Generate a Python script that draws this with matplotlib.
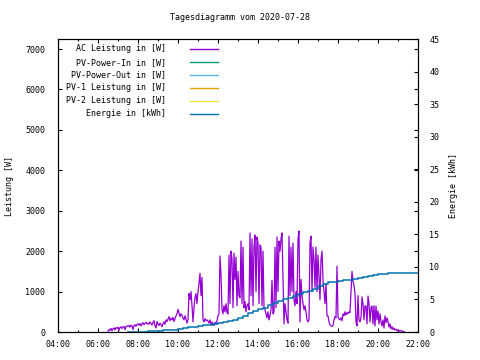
import numpy as np
import matplotlib
matplotlib.use("Agg")
import matplotlib.pyplot as plt
from matplotlib.ticker import MultipleLocator, FuncFormatter

# ── Data ─────────────────────────────────────────────────────
# AC power [W], one value every 3 minutes from 06:30 (one row per hour)
ac_rows = [
    [20, 60, 40, 90, 30, 80, 100, 50, 110, 90, 120, 40, 110, 130, 90, 120, 140, 60, 130, 150],
    [140, 160, 120, 170, 150, 60, 160, 180, 140, 190, 200, 170, 210, 150, 200, 230, 180, 210, 240, 200],
    [220, 190, 250, 210, 170, 240, 280, 150, 100, 260, 200, 160, 220, 180, 130, 210, 250, 190, 300, 260],
    [320, 380, 280, 340, 300, 360, 260, 330, 400, 450, 560, 480, 380, 450, 420, 350, 300, 400, 320, 220],
    [300, 950, 800, 1000, 650, 250, 600, 850, 950, 700, 1000, 1200, 1450, 900, 1350, 300, 250, 330, 280, 300],
    [270, 220, 300, 180, 250, 200, 160, 240, 190, 280, 400, 450, 1880, 1400, 550, 450, 650, 500, 700, 480],
    [450, 1900, 700, 2000, 1800, 600, 1950, 1300, 1850, 650, 1500, 900, 850, 2250, 700, 2100, 600, 750, 500, 650],
    [700, 550, 2450, 900, 2300, 650, 2100, 2400, 1000, 2350, 2200, 700, 2150, 2100, 650, 2000, 600, 550, 450, 350],
    [500, 300, 400, 550, 1280, 450, 500, 2100, 600, 2350, 1000, 2250, 2000, 2300, 2450, 1300, 200, 700, 500, 300],
    [220, 2370, 900, 2100, 1000, 2200, 800, 650, 1000, 700, 2300, 2500, 250, 1300, 900, 700, 550, 650, 500, 300],
    [250, 300, 2200, 2370, 1000, 2100, 1800, 1100, 2100, 1000, 1900, 1400, 800, 1800, 2000, 1300, 1000, 700, 1200, 400],
    [400, 250, 180, 150, 140, 160, 300, 380, 350, 1630, 380, 320, 300, 350, 280, 450, 400, 500, 420, 480],
    [450, 500, 480, 1000, 1500, 1250, 1150, 950, 250, 150, 900, 300, 250, 350, 870, 700, 300, 650, 640, 200],
    [890, 700, 250, 600, 640, 200, 650, 150, 640, 300, 520, 200, 450, 250, 150, 300, 100, 400, 230, 350],
    [260, 120, 200, 80, 130, 60, 100, 50, 70, 30, 60, 25, 40, 20, 30, 15, 10],
]
ac_start = 6.5   # 06:30
ac_step = 3      # minutes

# Energy [kWh], one value every 15 minutes from 07:30
energy = [0, 0, 0, 0, 0.1, 0.1, 0.1, 0.25, 0.35, 0.35,
          0.5, 0.6, 0.7, 0.8, 0.9, 1.05, 1.15, 1.3, 1.4, 1.5,
          1.7, 1.9, 2.2, 2.5, 2.9, 3.2, 3.5, 3.75, 4.1, 4.4,
          4.8, 5.0, 5.3, 5.6, 5.9, 6.1, 6.35, 6.6, 7.0, 7.4,
          7.7, 7.75, 7.85, 7.95, 8.05, 8.2, 8.35, 8.5, 8.6, 8.7,
          8.85, 8.95, 9.0, 9.0, 9.0, 9.0, 9.0, 9.0, 9.0]
energy_start = 7.5
energy_step = 15

# series without values on this day
pv_in, pv_out, pv1, pv2 = [], [], [], []

labels = ["AC Leistung in [W]", "PV-Power-In in [W]", "PV-Power-Out in [W]",
          "PV-1 Leistung in [W]", "PV-2 Leistung in [W]", "Energie in [kWh]"]
colors = ["#9400d3", "#009e73", "#56b4e9", "#e69f00", "#f0e442", "#0072b2"]
title = "Tagesdiagramm vom 2020-07-28"

# ── Prepare ──────────────────────────────────────────────────
ac = [v for row in ac_rows for v in row]
ac_t = ac_start + np.arange(len(ac)) * ac_step / 60
en_t = energy_start + np.arange(len(energy)) * energy_step / 60

plt.rcParams["font.family"] = ["DejaVu Sans Mono"]
plt.rcParams["font.size"] = 6

fig = plt.figure(figsize=(4.8, 3.6), dpi=100)
ax = fig.add_axes([58 / 480, 28 / 360, 360 / 480, 292.7 / 360])
ax2 = ax.twinx()

lines = []
lines += ax.plot(ac_t, ac, color=colors[0], lw=0.9)
lines += ax.plot(pv_in, pv_in, color=colors[1], lw=0.9)
lines += ax.plot(pv_out, pv_out, color=colors[2], lw=0.9)
lines += ax.plot(pv1, pv1, color=colors[3], lw=0.9)
lines += ax.plot(pv2, pv2, color=colors[4], lw=0.9)
lines += ax2.plot(en_t, energy, color=colors[5], lw=1.1, drawstyle="steps-post")

ax.set_xlim(4, 22)
ax.set_ylim(0, 7240)
ax2.set_ylim(0, 45)

ax.xaxis.set_major_locator(MultipleLocator(2))
ax.xaxis.set_minor_locator(MultipleLocator(1))
ax.xaxis.set_major_formatter(FuncFormatter(lambda v, p: f"{int(v):02d}:00"))
ax.yaxis.set_major_locator(MultipleLocator(1000))
ax2.yaxis.set_major_locator(MultipleLocator(5))

ax.tick_params(which="major", direction="in", length=3, width=0.8,
               top=True, right=True, labelright=False, pad=6)
ax.tick_params(which="minor", direction="in", length=1.6, width=0.8, top=True)
ax.tick_params(axis="y", pad=9)
ax2.tick_params(direction="in", length=3, width=0.8, pad=8)

for a in (ax, ax2):
    for s in a.spines.values():
        s.set_linewidth(0.8)

ax.set_ylabel("Leistung [W]", labelpad=8)
ax2.set_ylabel("Energie [kWh]", rotation=90, labelpad=7)
fig.text(0.5, 1 - 18 / 360, title, ha="center", va="center")

# gnuplot-style key: right aligned text, sample line to its right
row_y = [0.967, 0.922, 0.878, 0.834, 0.790, 0.746]
for ln, lab, yy in zip(lines, labels, row_y):
    ax.text(0.30, yy, lab, transform=ax.transAxes, ha="right", va="center")
    ax.plot([0.367, 0.444], [yy, yy], transform=ax.transAxes,
            color=ln.get_color(), lw=1.0, clip_on=False)

fig.savefig("out.png", dpi=100)
